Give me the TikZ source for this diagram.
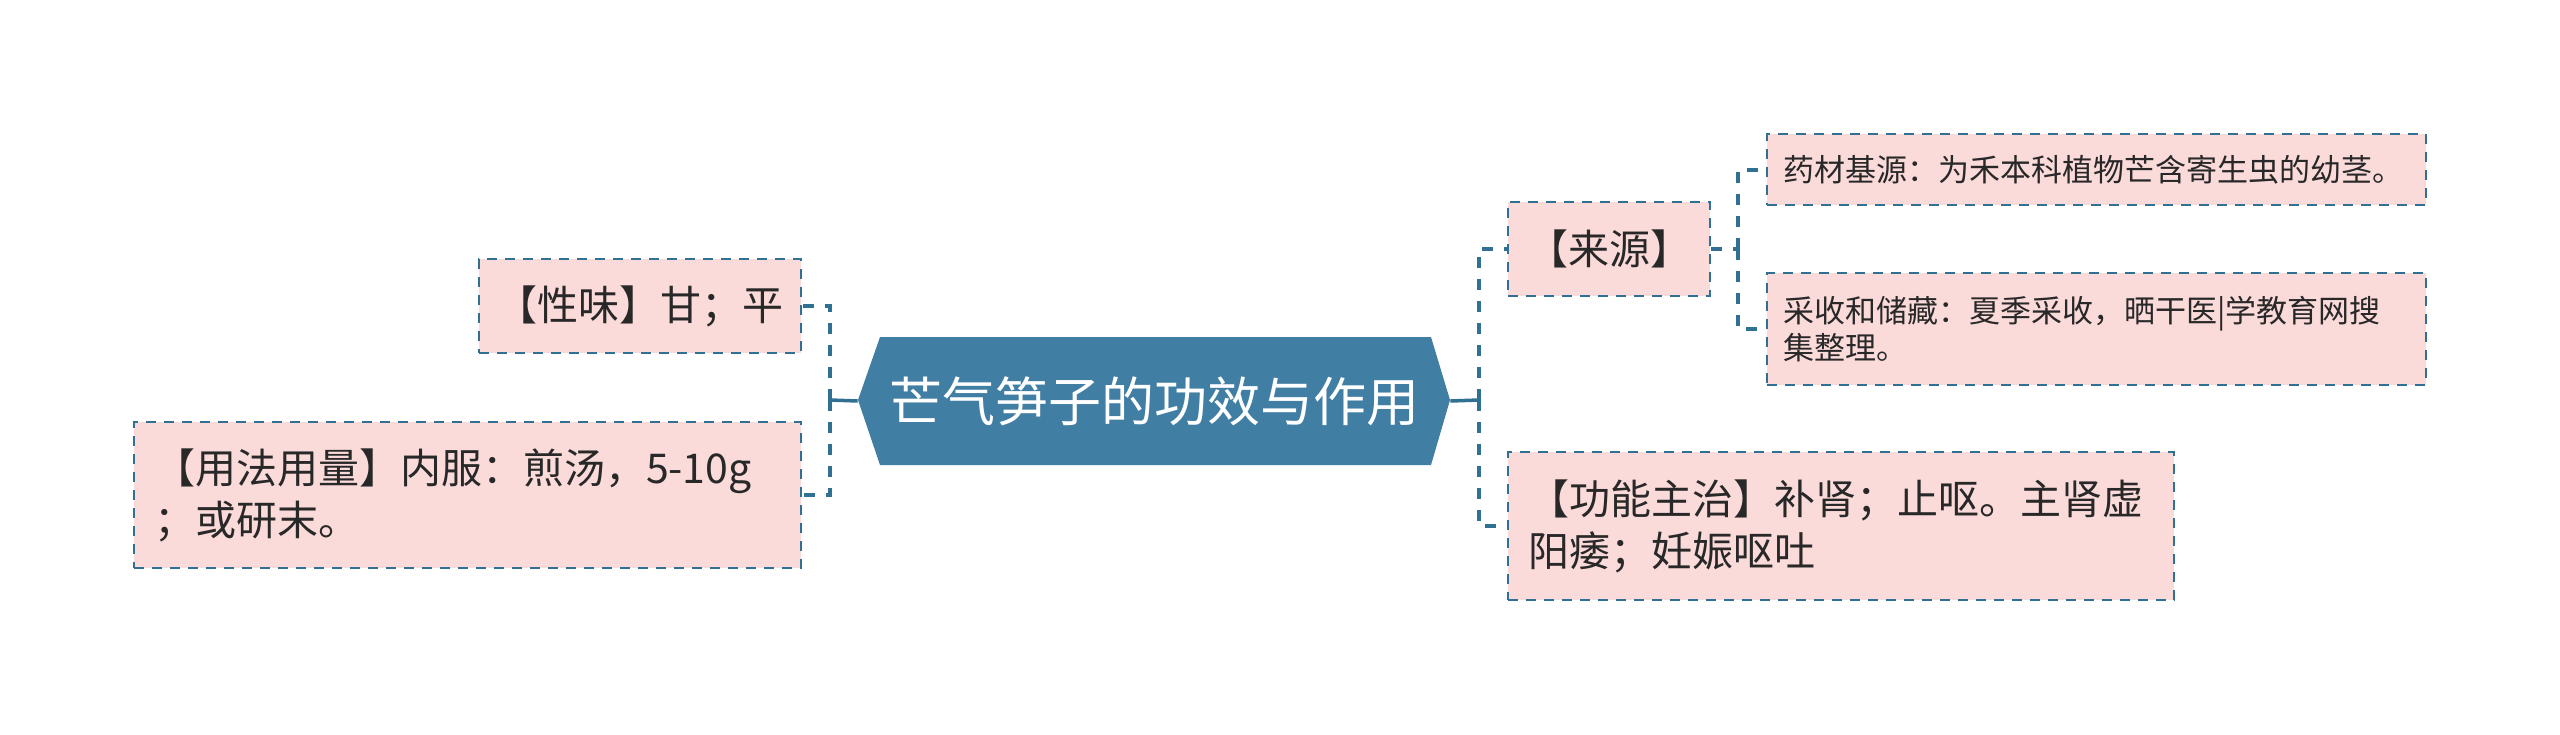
\documentclass[tikz,border=0pt]{standalone}
\usepackage{fontspec}
\newfontfamily\cjk{Noto Sans CJK SC}
\definecolor{boxfill}{RGB}{251,218,218}
\definecolor{bordercol}{RGB}{48,112,146}
\definecolor{hexcol}{RGB}{64,126,164}
\definecolor{textcol}{RGB}{40,40,40}
\begin{document}
\begin{tikzpicture}[x=0.5pt,y=-0.5pt,
  pinkbox/.style={draw=bordercol, fill=boxfill, line width=1.25pt,
    dash pattern=on 5pt off 4pt, text=textcol, inner sep=0pt},
  bigfont/.style={font=\cjk\fontsize{20.5pt}{26pt}\selectfont},
  smallfont/.style={font=\cjk\fontsize{15.5pt}{18.5pt}\selectfont},
  conn/.style={draw=bordercol, line width=2pt, dash pattern=on 5.5pt off 5.5pt},
  solidconn/.style={draw=bordercol, line width=1.75pt}
]
\useasboundingbox (0,0) rectangle (2560,734);
% central hexagon
\fill[hexcol] (858,400) -- (880,337) -- (1431,337) -- (1450,400) -- (1431,465) -- (880,465) -- cycle;
\node[inner sep=0pt, minimum width=296pt, minimum height=64pt, text=white,
  font=\cjk\fontsize{26.5pt}{30pt}\selectfont] (hex) at (1154,401) {芒气笋子的功效与作用};
% left boxes
\node[pinkbox, bigfont, minimum width=161pt, minimum height=47pt] (xw) at (640,306) {【性味】甘；平};
\node[pinkbox, bigfont, minimum width=333.5pt, minimum height=73pt, inner xsep=10pt,
  text width=313.5pt, align=left] (yf) at (467.5,495) {【用法用量】内服：煎汤，5-10g\\；或研末。};
% right boxes
\node[pinkbox, bigfont, minimum width=101pt, minimum height=47pt] (ly) at (1609,249) {【来源】};
\node[pinkbox, bigfont, minimum width=333pt, minimum height=74pt, inner xsep=10pt,
  text width=313pt, align=left] (gn) at (1841,526) {【功能主治】补肾；止呕。主肾虚\\阳痿；妊娠呕吐};
\node[pinkbox, smallfont, minimum width=329.5pt, minimum height=35.5pt, inner xsep=8pt,
  text width=313.5pt, align=left] (yc) at (2096.5,169.5) {药材基源：为禾本科植物芒含寄生虫的幼茎。};
\node[pinkbox, smallfont, minimum width=329.5pt, minimum height=56pt, inner xsep=8pt,
  text width=313.5pt, align=left] (cs) at (2096.5,329) {采收和储藏：夏季采收，晒干医|学教育网搜\\集整理。};
% connectors
\coordinate (L) at (830,400);
\coordinate (R) at (1479,400);
\coordinate (S) at (1738,249);
\draw[solidconn] (hex.west) -- (L);
\draw[solidconn] (hex.east) -- (R);
\draw[conn] (L) |- (xw.east);
\draw[conn] (L) |- (yf.east);
\draw[conn] (R) |- (ly.west);
\draw[conn] (R) |- (gn.west);
\draw[conn] (ly.east) -- (S);
\draw[conn] (S) |- (yc.west);
\draw[conn] (S) |- (cs.west);
\end{tikzpicture}
\end{document}
